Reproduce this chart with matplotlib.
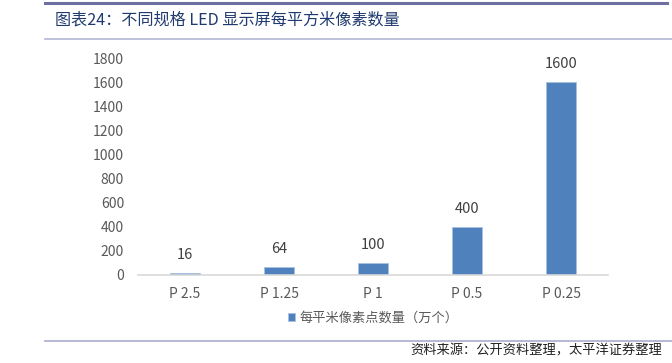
import matplotlib
matplotlib.use("Agg")
import matplotlib.pyplot as plt
from matplotlib.lines import Line2D

plt.rcParams['font.family'] = ['Noto Sans CJK SC', 'DejaVu Sans']

# 数据
categories = ["P 2.5", "P 1.25", "P 1", "P 0.5", "P 0.25"]
pixels = [16, 64, 100, 400, 1600]
yticks = [0, 200, 400, 600, 800, 1000, 1200, 1400, 1600, 1800]

title = "图表24：不同规格 LED 显示屏每平方米像素数量"
legend_label = "每平米像素点数量（万个）"
source = "资料来源：公开资料整理，太平洋证券整理"

W, H = 672, 363
fig = plt.figure(figsize=(W / 100, H / 100), dpi=100)

# 顶部、标题下、底部的分隔线
fig.add_artist(Line2D([45 / W, 667 / W], [1 - 2.5 / H, 1 - 2.5 / H], color="#6d6f9e", lw=2.2))
fig.add_artist(Line2D([45 / W, 672 / W], [1 - 39 / H, 1 - 39 / H], color="#b4b6d4", lw=1.2))
fig.add_artist(Line2D([45 / W, 672 / W], [1 - 341 / H, 1 - 341 / H], color="#a9abcd", lw=1.2))

fig.text(55 / W, 1 - 20 / H, title, fontsize=11.6, color="#1f3a6e", va="center", ha="left")
fig.text(662 / W, 1 - 351 / H, source, fontsize=9.5, color="#222222", va="center", ha="right")

ax = fig.add_axes([138 / W, 1 - 275 / H, 470 / W, 217 / H])
x = range(len(categories))
ax.bar(x, pixels, width=0.32, color="#4f81bd", edgecolor="#a9c1e0", linewidth=0.6,
       label=legend_label)

for xi, v in zip(x, pixels):
    ax.annotate(str(v), (xi, v), xytext=(0, 8), textcoords="offset points",
                ha="center", va="bottom", fontsize=10.5, color="#404040")

ax.set_xlim(-0.5, len(categories) - 0.5)
ax.set_ylim(0, 1800)
ax.set_yticks(yticks)
ax.set_xticks(list(x))
ax.set_xticklabels(categories)
ax.tick_params(axis="both", length=0, labelsize=10, colors="#595959")
ax.tick_params(axis="y", pad=10)
ax.tick_params(axis="x", pad=9)

for s in ["top", "right", "left"]:
    ax.spines[s].set_visible(False)
ax.spines["bottom"].set_color("#d9d9d9")
ax.spines["bottom"].set_linewidth(1.2)

ax.legend(loc="center", bbox_to_anchor=(0.5, -0.2), frameon=False, fontsize=9.5,
          handlelength=0.6, handleheight=0.6, handletextpad=0.3, labelcolor="#595959",
          borderaxespad=0)

fig.savefig("out.png", dpi=100)
